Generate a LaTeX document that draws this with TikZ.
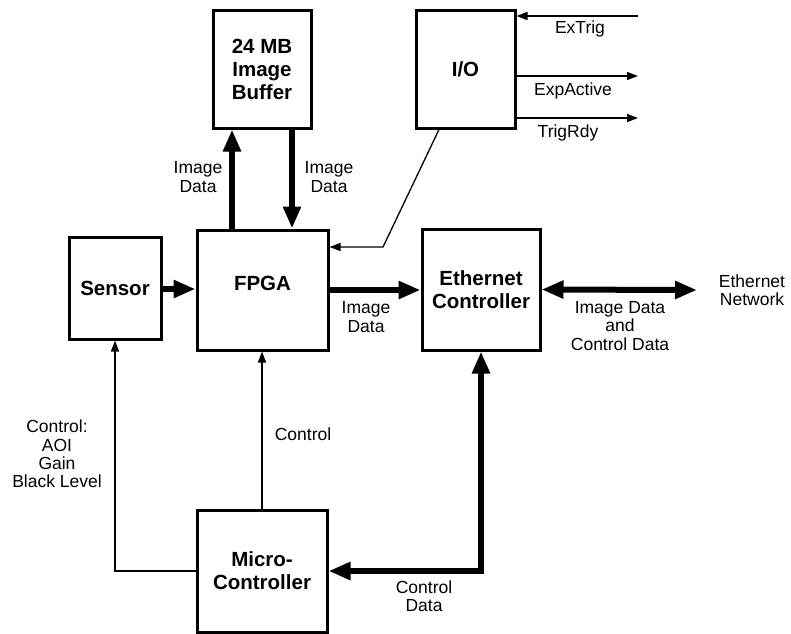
\documentclass[tikz,border=0pt]{standalone}
\usepackage{fontspec}
\setmainfont{Liberation Sans}
\usetikzlibrary{arrows.meta}
\tikzset{
  box/.style={draw, line width=3pt, rectangle, inner sep=0pt, align=center,
    font=\bfseries\fontsize{20.5}{23}\selectfont},
  boxtext/.style={align=center, font=\bfseries\fontsize{20.5}{23}\selectfont},
  lbl/.style={align=center, inner sep=0pt, font=\fontsize{17.5}{18.3}\selectfont},
  thick arrow/.style={line width=6pt, -{Triangle[length=22pt,width=17pt]}},
  thick both/.style={line width=6pt, {Triangle[length=22pt,width=17pt]}-{Triangle[length=22pt,width=17pt]}},
  thin arrow/.style={line width=1.3pt, -{Triangle[length=11pt,width=8pt]}},
  thin line/.style={line width=1.3pt},
}
\begin{document}
\begin{tikzpicture}[x=1pt,y=-1pt,line join=miter]
\useasboundingbox (0,0) rectangle (791,633);
% boxes
\node[box, minimum width=98pt, minimum height=118pt] (buf) at (262,69) {24 MB\\Image\\Buffer};
\node[box, minimum width=99pt, minimum height=118pt] (io) at (465.5,69) {I/O};
\node[box, minimum width=92pt, minimum height=102pt] (sensor) at (115,288) {Sensor};
\node[box, minimum width=131pt, minimum height=120pt,
      label={[boxtext, yshift=7pt]center:FPGA}] (fpga) at (262.5,290) {};
\node[box, minimum width=118pt, minimum height=121pt] (eth) at (481,289.5) {Ethernet\\Controller};
\node[box, minimum width=130pt, minimum height=122pt] (micro) at (262,571) {Micro-\\Controller};
% free end points
\coordinate (extrig) at (638,16);
\coordinate (expact) at (638,76);
\coordinate (trigrdy) at (638,118);
\coordinate (bend) at (383,247);
\coordinate (net) at (697,290);
% connectors
\draw[thick arrow] (sensor.east |- 0,289) -- (fpga.west |- 0,289);
\draw[thick arrow] (fpga.east) -- (fpga.east -| eth.west);
\draw[thick arrow] ([xshift=-30.5pt]fpga.north) -- ([xshift=-30.5pt]fpga.north |- buf.south);
\draw[thick arrow] ([xshift=30pt]buf.south) -- ([xshift=30pt]buf.south |- fpga.north);
\draw[thin arrow] ([xshift=-26.5pt]io.south) -- (bend) -- (bend -| fpga.east);
\draw[thin arrow] (extrig) -- (extrig -| io.east);
\draw[thin arrow] (expact -| io.east) -- (expact);
\draw[thin arrow] (trigrdy -| io.east) -- (trigrdy);
\draw[thick both] (eth.east) -- (net);
\draw[thin arrow] (micro.west) -- (micro.west -| sensor.south) -- (sensor.south);
\draw[thin arrow] (micro.north) -- (micro.north |- fpga.south);
\draw[thick both] (eth.south) -- (eth.south |- micro.east) -- (micro.east);
% labels
\node[lbl] (l1) at (198,177) {Image\\Data};
\node[lbl] (l2) at (329,177) {Image\\Data};
\node[lbl] (l3) at (580,29) {ExTrig};
\node[lbl] (l4) at (573,91) {ExpActive};
\node[lbl] (l5) at (568,133) {TrigRdy};
\node[lbl] (l6) at (366,317) {Image\\Data};
\node[lbl] (l7) at (752,290) {Ethernet\\Network};
\node[lbl] (l8) at (620,326) {Image Data\\and\\Control Data};
\node[lbl] (l9) at (57,454) {Control:\\AOI\\Gain\\Black Level};
\node[lbl] (l10) at (303,434) {Control};
\node[lbl] (l11) at (424,596) {Control\\Data};
\end{tikzpicture}
\end{document}
